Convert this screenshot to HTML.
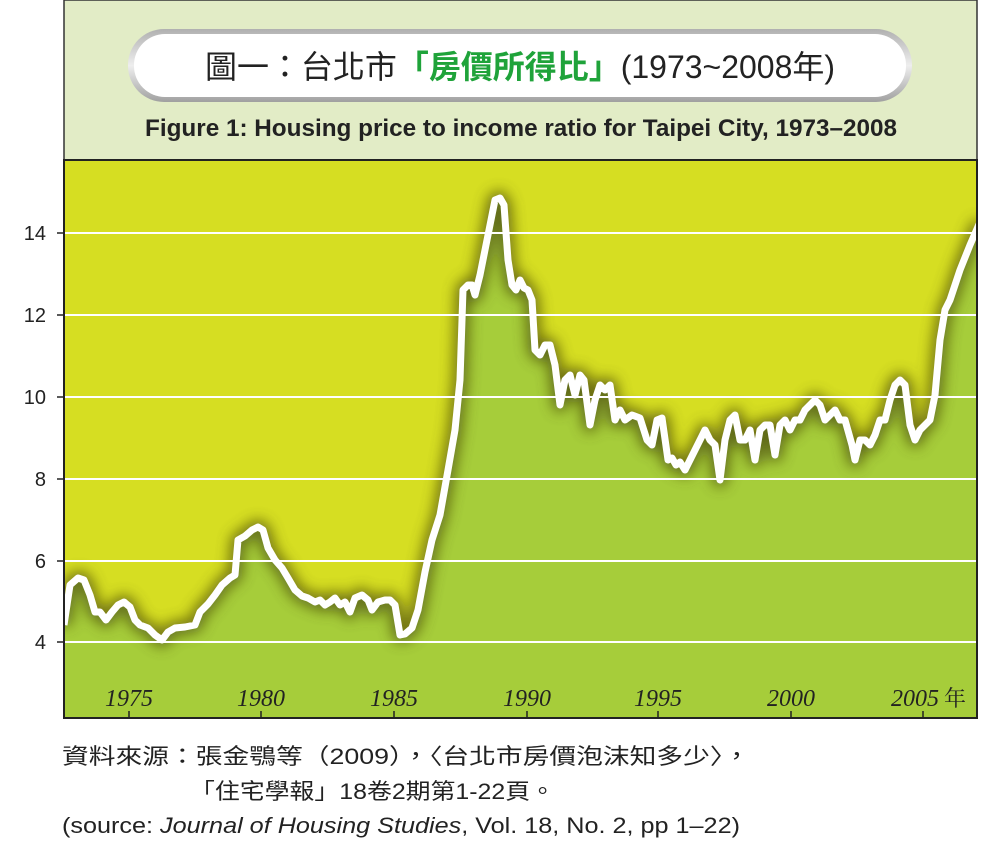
<!DOCTYPE html>
<html><head><meta charset="utf-8"><style>
body{margin:0;width:1000px;height:840px;background:#fff;overflow:hidden;font-family:"Liberation Sans","Noto Sans CJK TC",sans-serif;}
</style></head><body>
<svg width="1000" height="840" viewBox="0 0 1000 840" xmlns="http://www.w3.org/2000/svg">
<defs>
<filter id="sh" x="-10%" y="-10%" width="120%" height="120%"><feGaussianBlur stdDeviation="7"/></filter>
<linearGradient id="pill" x1="0" y1="0" x2="0" y2="1"><stop offset="0" stop-color="#b0b0b0"/><stop offset="0.5" stop-color="#eeeeee"/><stop offset="1" stop-color="#a0a0a0"/></linearGradient>
<clipPath id="pc"><rect x="64" y="160" width="913" height="558"/></clipPath>
</defs>
<rect x="64" y="0" width="913" height="160" fill="#e2ecc6" stroke="#333" stroke-width="1.5"/>
<rect x="128" y="29" width="784" height="73" rx="36" fill="url(#pill)"/>
<rect x="134" y="34" width="772" height="63" rx="31" fill="#fff"/>
<text x="205" y="78" textLength="630" lengthAdjust="spacingAndGlyphs" font-size="32" fill="#222" font-family="Liberation Sans,Noto Sans CJK TC,sans-serif">圖一：台北市<tspan fill="#1fa33a" font-weight="bold">「房價所得比」</tspan>(1973~2008年)</text>
<text x="145" y="136" textLength="752" lengthAdjust="spacingAndGlyphs" font-size="24" font-weight="bold" fill="#222">Figure 1: Housing price to income ratio for Taipei City, 1973–2008</text>
<rect x="64" y="160" width="913" height="558" fill="#d6de22"/>
<g clip-path="url(#pc)">
<path id="ln" d="M64,625 L70,585 78,578 84,580 90,595 95,612 100,612 106,620 112,612 118,605 124,602 130,607 135,620 140,625 148,628 155,635 162,640 168,632 175,628 185,627 195,625 200,612 208,604 215,595 222,585 230,578 235,575 238,540 245,536 252,530 258,527 263,530 268,548 275,560 282,568 288,578 295,590 302,596 308,598 315,602 320,600 325,605 330,602 335,598 340,605 345,602 350,612 355,598 362,595 368,600 372,610 378,602 385,600 390,600 395,605 400,635 405,634 412,628 418,610 425,572 432,540 440,515 448,470 455,430 460,380 463,290 468,285 472,285 475,295 480,275 485,250 490,225 495,200 500,198 504,205 508,260 512,285 516,290 520,280 524,288 528,290 532,300 535,350 540,355 545,345 550,345 555,365 560,405 565,380 570,375 575,395 580,375 584,380 590,425 595,400 600,385 605,390 610,385 615,420 620,410 625,420 632,415 640,418 647,440 652,445 657,420 662,418 668,460 672,458 676,465 680,462 685,470 690,460 695,450 700,440 705,430 710,440 715,445 720,480 725,440 730,420 735,415 740,440 745,440 750,430 755,460 760,430 765,425 770,425 775,455 780,425 785,420 790,430 795,420 800,420 805,410 810,405 815,400 820,405 825,420 830,415 835,410 840,420 845,420 852,445 855,460 860,440 865,440 870,445 875,435 880,420 885,420 890,400 895,385 900,380 905,385 910,425 915,440 920,430 925,425 930,420 935,395 940,340 945,310 950,300 960,270 970,245 980,222" fill="none"/>
<path d="M64,625 L70,585 78,578 84,580 90,595 95,612 100,612 106,620 112,612 118,605 124,602 130,607 135,620 140,625 148,628 155,635 162,640 168,632 175,628 185,627 195,625 200,612 208,604 215,595 222,585 230,578 235,575 238,540 245,536 252,530 258,527 263,530 268,548 275,560 282,568 288,578 295,590 302,596 308,598 315,602 320,600 325,605 330,602 335,598 340,605 345,602 350,612 355,598 362,595 368,600 372,610 378,602 385,600 390,600 395,605 400,635 405,634 412,628 418,610 425,572 432,540 440,515 448,470 455,430 460,380 463,290 468,285 472,285 475,295 480,275 485,250 490,225 495,200 500,198 504,205 508,260 512,285 516,290 520,280 524,288 528,290 532,300 535,350 540,355 545,345 550,345 555,365 560,405 565,380 570,375 575,395 580,375 584,380 590,425 595,400 600,385 605,390 610,385 615,420 620,410 625,420 632,415 640,418 647,440 652,445 657,420 662,418 668,460 672,458 676,465 680,462 685,470 690,460 695,450 700,440 705,430 710,440 715,445 720,480 725,440 730,420 735,415 740,440 745,440 750,430 755,460 760,430 765,425 770,425 775,455 780,425 785,420 790,430 795,420 800,420 805,410 810,405 815,400 820,405 825,420 830,415 835,410 840,420 845,420 852,445 855,460 860,440 865,440 870,445 875,435 880,420 885,420 890,400 895,385 900,380 905,385 910,425 915,440 920,430 925,425 930,420 935,395 940,340 945,310 950,300 960,270 970,245 980,222 L980,720 L64,720 Z" fill="#a6cd3a"/>
<use href="#ln" stroke="#4a4a10" stroke-width="14" stroke-linejoin="round" filter="url(#sh)" opacity="0.75"/>
<g stroke="#fff" stroke-width="2">
<line x1="64" x2="977" y1="233" y2="233"/><line x1="64" x2="977" y1="315" y2="315"/><line x1="64" x2="977" y1="397" y2="397"/><line x1="64" x2="977" y1="479" y2="479"/><line x1="64" x2="977" y1="561" y2="561"/><line x1="64" x2="977" y1="642" y2="642"/>
</g>
<use href="#ln" stroke="#fff" stroke-width="7" stroke-linejoin="round"/>
</g>
<rect x="64" y="160" width="913" height="558" fill="none" stroke="#222" stroke-width="2"/>
<g stroke="#222" stroke-width="1.5">
<line x1="57" x2="64" y1="233" y2="233"/><line x1="57" x2="64" y1="315" y2="315"/><line x1="57" x2="64" y1="397" y2="397"/><line x1="57" x2="64" y1="479" y2="479"/><line x1="57" x2="64" y1="561" y2="561"/><line x1="57" x2="64" y1="642" y2="642"/>
<line x1="129" x2="129" y1="711" y2="718"/><line x1="261" x2="261" y1="711" y2="718"/><line x1="394" x2="394" y1="711" y2="718"/><line x1="527" x2="527" y1="711" y2="718"/><line x1="658" x2="658" y1="711" y2="718"/><line x1="791" x2="791" y1="711" y2="718"/><line x1="923" x2="923" y1="711" y2="718"/>
</g>
<g font-size="20" fill="#222" text-anchor="end">
<text x="46" y="240">14</text><text x="46" y="322">12</text><text x="46" y="404">10</text><text x="46" y="486">8</text><text x="46" y="568">6</text><text x="46" y="649">4</text>
</g>
<g font-size="24" font-style="italic" fill="#222" text-anchor="middle" font-family="Liberation Serif,serif">
<text x="129" y="706">1975</text><text x="261" y="706">1980</text><text x="394" y="706">1985</text><text x="527" y="706">1990</text><text x="658" y="706">1995</text><text x="791" y="706">2000</text><text x="915" y="706">2005</text>
</g>
<text x="944" y="706" font-size="22" fill="#222" font-family="Noto Serif CJK SC,serif">年</text>
<g font-size="22" fill="#222">
<text x="62" y="764" textLength="688" lengthAdjust="spacingAndGlyphs">資料來源：張金鶚等（2009），〈台北市房價泡沫知多少〉，</text>
<text x="190" y="799" textLength="365" lengthAdjust="spacingAndGlyphs">「住宅學報」18卷2期第1-22頁。</text>
<text x="62" y="833" textLength="678" lengthAdjust="spacingAndGlyphs">(source: <tspan font-style="italic">Journal of Housing Studies</tspan>, Vol. 18, No. 2, pp 1–22)</text>
</g>
</svg>
</body></html>
